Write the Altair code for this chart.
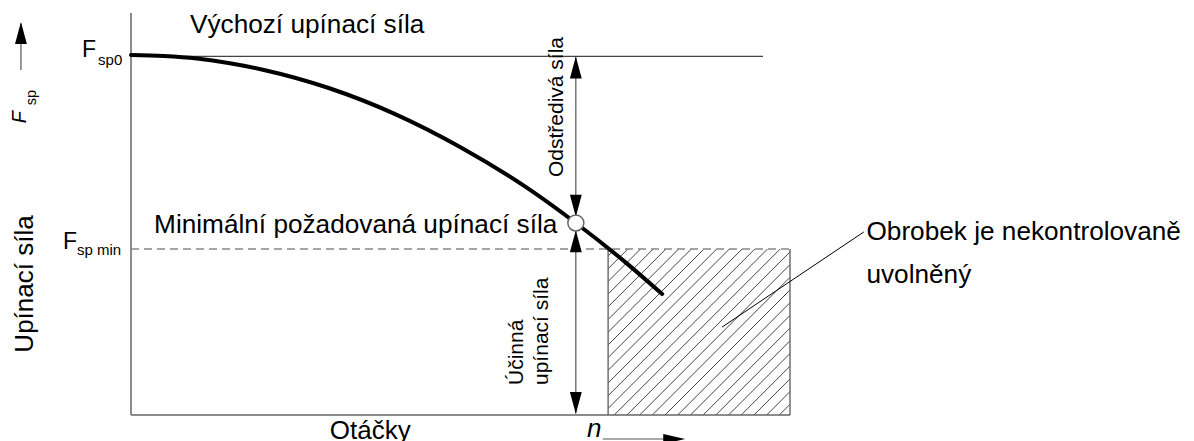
import altair as alt
import pandas as pd

# ---------------- data ----------------
# clamping force curve: speed n (relative units) vs clamping force F_sp
speed = [0, 5, 10, 15, 20, 30, 40, 50, 60, 67.5, 75, 80.6]
force = [100.3, 100.0, 99.3, 98.0, 96.2, 91.1, 83.9, 74.6, 63.4, 53.5, 42.6, 33.7]

F_SP0 = 99.9          # initial clamping force
F_SP_MIN = 46.25      # minimum required clamping force
N_CRIT = 72.4         # speed where workpiece gets released
N_MAX = 100.0
F_TOP = 112.0
N_SP0_END = 95.9
N_POINT = 67.5        # intersection point (circle)
F_POINT = 53.5

FONT = "Liberation Sans"

xs = alt.Scale(domain=[0, N_MAX], nice=False, zero=False)
ys = alt.Scale(domain=[0, F_TOP], nice=False, zero=False)
X = alt.X("x:Q", scale=xs, axis=None)
Y = alt.Y("y:Q", scale=ys, axis=None)


def rules(rows, **kw):
    df = pd.DataFrame(rows, columns=["x", "y", "x2", "y2"])
    return alt.Chart(df).mark_rule(**kw).encode(x=X, y=Y, x2="x2:Q", y2="y2:Q")


def texts(rows, **kw):
    df = pd.DataFrame(rows, columns=["t", "x", "y"])
    return alt.Chart(df).mark_text(font=FONT, color="black", **kw).encode(x=X, y=Y, text="t:N")


def heads(rows, path, size):
    df = pd.DataFrame(rows, columns=["x", "y"])
    return alt.Chart(df).mark_point(shape=path, size=size, filled=True, fill="black",
                                    stroke=None, opacity=1).encode(x=X, y=Y)


# ---------------- hatch of the "released" region ----------------
PX_X = 659 / N_MAX     # pixels per x unit
PX_Y = 402 / F_TOP     # pixels per y unit
W = (N_MAX - N_CRIT) * PX_X
H = F_SP_MIN * PX_Y
hatch_rows = []
d = -159.0
while d < W:
    t0 = max(0.0, -d)
    t1 = min(H, W - d)
    if t1 > t0:
        hatch_rows.append([N_CRIT + (d + t0) / PX_X, t0 / PX_Y,
                           N_CRIT + (d + t1) / PX_X, t1 / PX_Y])
    d += 12.7

hatch = rules(hatch_rows, color="#444", strokeWidth=1)

box_edges = rules([[N_CRIT, 0, N_CRIT, F_SP_MIN], [N_MAX, 0, N_MAX, F_SP_MIN]],
                  color="#666", strokeWidth=1.4)

axes = rules([[0, 0, 0, F_TOP], [0, 0, N_MAX, 0]], color="#666", strokeWidth=1.5)

dashed = rules([[0, F_SP_MIN, N_MAX, F_SP_MIN]], color="#888", strokeWidth=1.3,
               strokeDash=[8, 5])

sp0_line = rules([[0, F_SP0, N_SP0_END, F_SP0]], color="#444", strokeWidth=1.2)

curve = alt.Chart(pd.DataFrame({"x": speed, "y": force})).mark_line(
    color="black", strokeWidth=4, interpolate="monotone", strokeCap="round"
).encode(x=X, y=Y)

# dimension arrows
arrow_shafts = rules([
    [N_POINT, F_SP0, N_POINT, 55.5],
    [N_POINT, 51.8, N_POINT, 0.5],
    [-16.7, 96.1, -16.7, 109.0],
    [71.6, -6.69, 83.5, -6.69],
], color="#555", strokeWidth=1.2)

UP = "M0,0L-0.27,1L0.27,1Z"
DOWN = "M0,0L-0.27,-1L0.27,-1Z"
RIGHT = "M0,0L-1,-0.23L-1,0.23Z"
heads_up = heads([[N_POINT, F_SP0], [N_POINT, 51.5], [-16.7, 109.5]], UP, 1936)
heads_down = heads([[N_POINT, 55.2], [N_POINT, 0.3]], DOWN, 1936)
heads_right = heads([[84.1, -6.69]], RIGHT, 1936)

circle = alt.Chart(pd.DataFrame({"x": [N_POINT], "y": [F_POINT]})).mark_point(
    shape="circle", size=256, filled=True, fill="white", stroke="#666",
    strokeWidth=1.5, opacity=1
).encode(x=X, y=Y)

leader = rules([[111.2, 51.0, 89.7, 24.5]], color="black", strokeWidth=1)

# ---------------- texts ----------------
main_texts = texts([
    ["Výchozí upínací síla", 8.95, 106.4],
    ["Minimální požadovaná upínací síla", 3.5, 50.7],
    ["Obrobek je nekontrolovaně", 111.6, 48.8],
    ["uvolněný", 111.6, 36.8],
], fontSize=26.2, align="left", baseline="alphabetic")

big_F = texts([["F", -7.44, 99.75], ["F", -10.32, 46.25]],
              fontSize=23, align="left", baseline="alphabetic")
subs = texts([["sp0", -5.0, 97.5], ["sp min", -8.19, 44.58]],
             fontSize=15, align="left", baseline="alphabetic")

otacky = texts([["Otáčky", 36.3, -6.7]], fontSize=26, align="center", baseline="alphabetic")
n_label = texts([["n", 69.2, -6.13]], fontSize=26, fontStyle="italic",
                align="left", baseline="alphabetic")

y_title = texts([["Upínací síla", -14.9, 36.5]], fontSize=26, angle=270,
                align="center", baseline="alphabetic")
fsp_F = texts([["F", -15.93, 81.3]], fontSize=20, fontStyle="italic", angle=270,
              align="left", baseline="alphabetic")
fsp_sub = texts([["sp", -14.4, 86.3]], fontSize=14.5, angle=270,
                align="left", baseline="alphabetic")

odstrediva = texts([["Odstředivá síla", 65.55, 85.8]], fontSize=21, angle=270,
                   align="center", baseline="alphabetic")
ucinna = texts([["Účinná", 59.5, 8.36], ["upínací síla", 63.3, 8.36]], fontSize=21,
               angle=270, align="left", baseline="alphabetic")

chart = alt.layer(
    hatch, box_edges, axes, dashed, sp0_line, curve, arrow_shafts,
    heads_up, heads_down, heads_right, circle, leader,
    main_texts, big_F, subs, otacky, n_label, y_title, fsp_F, fsp_sub,
    odstrediva, ucinna,
).properties(
    width=659, height=402,
    autosize=alt.AutoSizeParams(type="none"),
    padding={"left": 123, "top": 5, "right": 396, "bottom": 40},
    background="white",
).configure_view(stroke=None)

chart.save("out.html", embed_options={"renderer": "svg", "actions": False})
